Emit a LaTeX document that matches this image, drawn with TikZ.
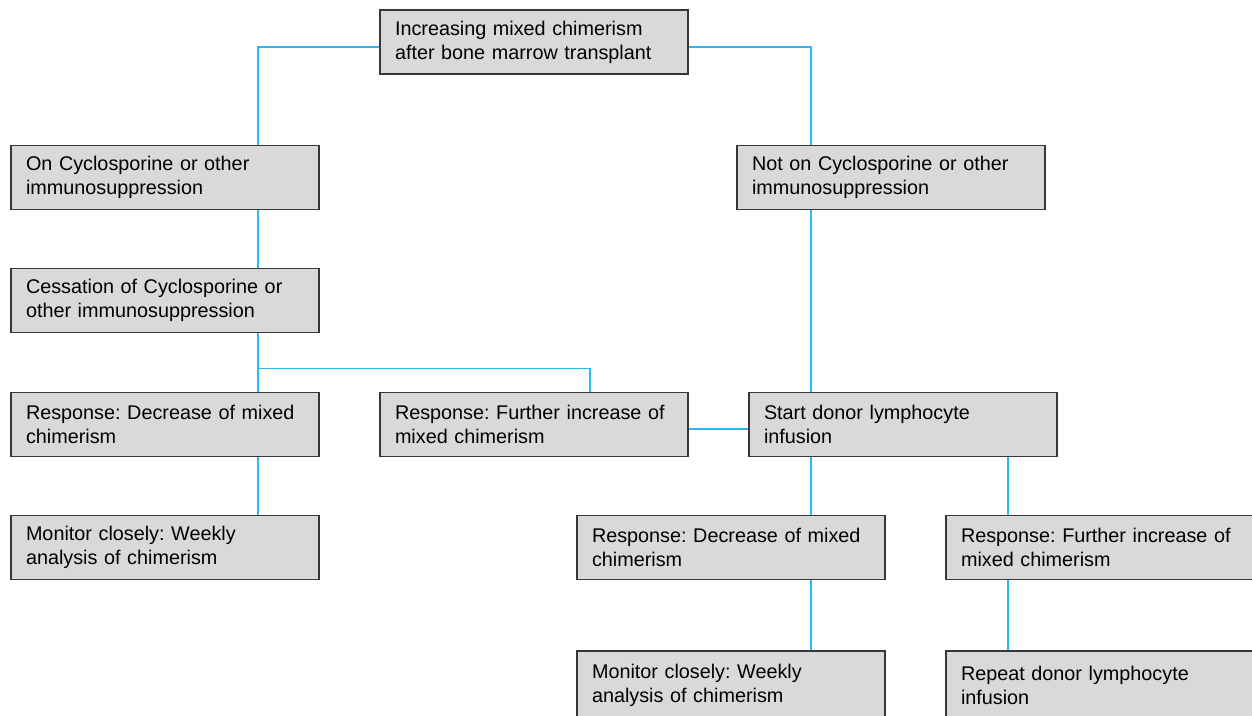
\documentclass[tikz,border=0pt]{standalone}
\usepackage{fontspec}
\setmainfont{Liberation Sans}
\frenchspacing
\definecolor{linkblue}{RGB}{45,185,235}
\definecolor{boxfill}{RGB}{217,217,217}
\definecolor{boxdraw}{RGB}{55,55,55}
\begin{document}
\begin{tikzpicture}[x=1pt,y=-1pt,
  box/.style={draw=boxdraw,line width=1.4pt,fill=boxfill,minimum width=308pt,minimum height=64pt,
    text width=278pt,align=left,inner sep=0pt,font=\fontsize{19.8}{24}\selectfont\frenchspacing},
  link/.style={draw=linkblue,line width=1.2pt}]
\useasboundingbox (0,0) rectangle (1252,715);
\begin{scope}
\clip (0,0) rectangle (1252,715);
\node[box] (top) at (534,42) {Increasing mixed chimerism\\after bone marrow transplant};
\node[box] (L1) at (165,177.5) {On Cyclosporine or other\\immunosuppression};
\node[box] (R1) at (891,177.5) {Not on Cyclosporine or other\\immunosuppression};
\node[box] (L2) at (165,300.5) {Cessation of Cyclosporine or\\other immunosuppression};
\node[box] (L3) at (165,424.5) {Response: Decrease of mixed\\chimerism};
\node[box] (M3) at (534,424.5) {Response: Further increase of\\mixed chimerism};
\node[box] (R3) at (903,424.5) {Start donor lymphocyte\\infusion};
\node[box] (L4) at (165,547.5) {Monitor closely: Weekly\\analysis of chimerism};
\node[box] (R4a) at (731,547.5) {Response: Decrease of mixed\\chimerism};
\node[box] (R4b) at (1100,547.5) {Response: Further increase of\\mixed chimerism};
\node[box,minimum height=68pt] (R5a) at (731,685) {Monitor closely: Weekly\\analysis of chimerism};
\node[box,minimum height=68pt] (R5b) at (1100,685) {Repeat donor lymphocyte\\infusion};
\end{scope}
\draw[link] ([yshift=-5pt]top.west) -| ([xshift=93pt]L1.north);
\draw[link] ([yshift=-5pt]top.east) -| ([xshift=-80pt]R1.north);
\draw[link] ([xshift=93pt]L1.south) -- ([xshift=93pt]L2.north);
\draw[link] ([xshift=93pt]L2.south) -- ([xshift=93pt]L3.north);
\coordinate (br) at ([xshift=93pt,yshift=-35pt]L2.south);
\draw[link] (br) -| ([xshift=56pt]M3.north);
\draw[link] ([xshift=-80pt]R1.south) -- ([xshift=-92pt]R3.north);
\draw[link] ([yshift=-4.5pt]M3.east) -- ([yshift=-4.5pt]R3.west);
\draw[link] ([xshift=93pt]L3.south) -- ([xshift=93pt]L4.north);
\draw[link] ([xshift=-92pt]R3.south) -- ([xshift=80pt]R4a.north);
\draw[link] ([xshift=105pt]R3.south) -- ([xshift=-92pt]R4b.north);
\draw[link] ([xshift=80pt]R4a.south) -- ([xshift=80pt]R5a.north);
\draw[link] ([xshift=-92pt]R4b.south) -- ([xshift=-92pt]R5b.north);
\end{tikzpicture}
\end{document}
